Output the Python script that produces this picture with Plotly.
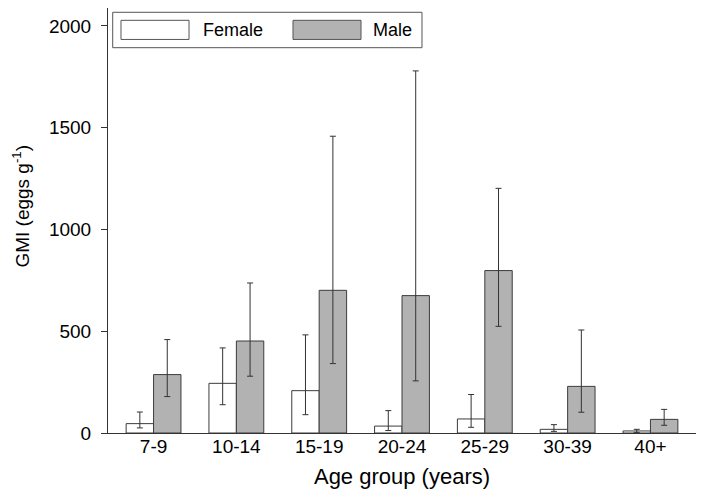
import plotly.graph_objects as go

categories = ["7-9", "10-14", "15-19", "20-24", "25-29", "30-39", "40+"]
female_mean = [46, 244, 208, 34, 69, 18, 10]
female_upper = [103, 418, 482, 110, 189, 41, 18]
female_lower = [25, 139, 90, 12, 28, 8, 3]
male_mean = [287, 452, 701, 675, 798, 229, 67]
male_upper = [459, 737, 1458, 1779, 1202, 506, 116]
male_lower = [179, 279, 341, 256, 524, 102, 38]
y_ticks = [0, 500, 1000, 1500, 2000]

FONT = "Liberation Sans, Arial, sans-serif"
EDGE = "#3c3c3c"
MALE_FILL = "#b2b2b2"


def err(mean, upper, lower):
    return dict(
        type="data", symmetric=False,
        array=[u - m for u, m in zip(upper, mean)],
        arrayminus=[m - l for m, l in zip(mean, lower)],
        color="#333333", thickness=1, width=3,
    )


fig = go.Figure()
fig.add_trace(go.Bar(
    x=categories, y=female_mean, name="Female",
    marker=dict(color="white", line=dict(color=EDGE, width=1)),
    error_y=err(female_mean, female_upper, female_lower),
))
fig.add_trace(go.Bar(
    x=categories, y=male_mean, name="Male",
    marker=dict(color=MALE_FILL, line=dict(color=EDGE, width=1)),
    error_y=err(male_mean, male_upper, male_lower),
))

fig.update_layout(
    width=696, height=488,
    margin=dict(l=100, r=8, t=0, b=63, autoexpand=False),
    paper_bgcolor="white", plot_bgcolor="white",
    barmode="group", bargap=0.338, bargroupgap=0,
    showlegend=False,
    font=dict(family=FONT, size=19, color="black"),
    xaxis=dict(
        type="category", range=[-0.55, 6.55],
        showline=True, linecolor="#333333", linewidth=1,
        ticks="", showgrid=False, zeroline=False,
        tickfont=dict(size=19), ticklabelstandoff=-4,
        title=dict(text="Age group (years)", font=dict(size=22), standoff=12),
    ),
    yaxis=dict(
        range=[0, 2088], tickvals=y_ticks,
        showline=True, linecolor="#333333", linewidth=1,
        ticks="outside", ticklen=6, tickcolor="#333333",
        showgrid=False, zeroline=False,
        tickfont=dict(size=19), ticklabelstandoff=6,
    ),
)

# y-axis title
fig.add_annotation(
    x=-0.148, y=0.535, xref="paper", yref="paper",
    text="GMI (eggs g<sup>-1</sup>)", textangle=-90, showarrow=False,
    font=dict(size=19, family=FONT), xanchor="center", yanchor="middle",
)

# custom legend box
fig.add_shape(type="rect", xref="paper", yref="paper",
              x0=0.008, x1=0.534, y0=0.9066, y1=0.9899,
              line=dict(color="#555555", width=1), fillcolor="white")
fig.add_shape(type="rect", xref="paper", yref="paper",
              x0=0.0221, x1=0.1378, y0=0.926, y1=0.971,
              line=dict(color="#555555", width=1), fillcolor="white")
fig.add_shape(type="rect", xref="paper", yref="paper",
              x0=0.3146, x1=0.4303, y0=0.926, y1=0.971,
              line=dict(color="#555555", width=1), fillcolor=MALE_FILL)
fig.add_annotation(x=0.158, y=0.948, xref="paper", yref="paper",
                   text="Female", showarrow=False, xanchor="left",
                   yanchor="middle", font=dict(size=18, family=FONT))
fig.add_annotation(x=0.447, y=0.948, xref="paper", yref="paper",
                   text="Male", showarrow=False, xanchor="left",
                   yanchor="middle", font=dict(size=18, family=FONT))

fig.write_html("out.html")
